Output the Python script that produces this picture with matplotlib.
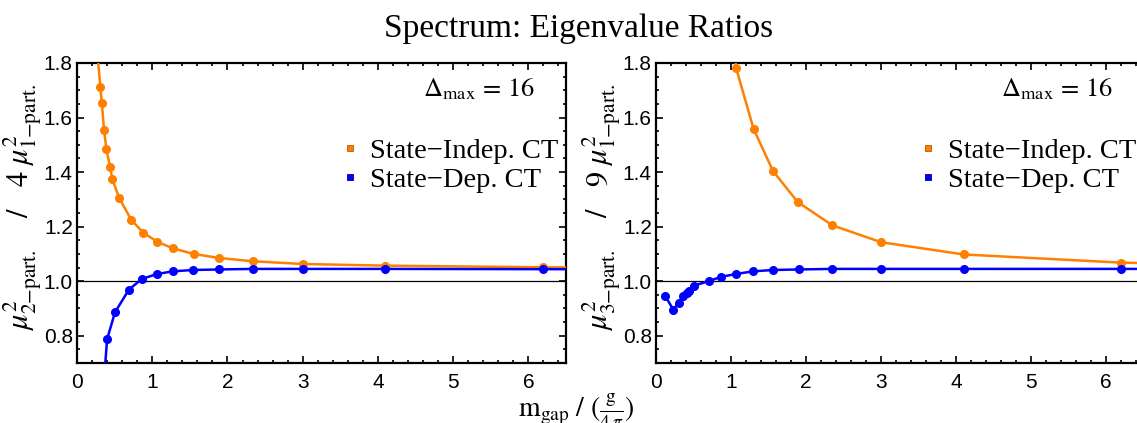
import matplotlib
matplotlib.use("Agg")
import matplotlib.pyplot as plt
from matplotlib.ticker import MultipleLocator, FormatStrFormatter

plt.rcParams['mathtext.fontset'] = 'stix'
plt.rcParams['font.family'] = ['Liberation Sans', 'DejaVu Sans']

# left panel: mu_2 / 4 mu_1
x2_indep = [0.27, 0.31, 0.33, 0.36, 0.39, 0.44, 0.47, 0.56, 0.72, 0.88, 1.07, 1.28, 1.55, 1.89, 2.34, 3.0, 4.1, 6.2, 8.0]
r2_indep = [1.84, 1.713, 1.653, 1.553, 1.485, 1.419, 1.373, 1.306, 1.225, 1.178, 1.144, 1.120, 1.100, 1.085, 1.073, 1.063, 1.057, 1.051, 1.049]
x2_dep = [0.36, 0.40, 0.505, 0.69, 0.86, 1.06, 1.27, 1.54, 1.89, 2.34, 3.0, 4.1, 6.2, 8.0]
r2_dep = [0.64, 0.787, 0.886, 0.969, 1.008, 1.026, 1.036, 1.041, 1.043, 1.045, 1.045, 1.045, 1.044, 1.044]

# right panel: mu_3 / 9 mu_1
x3_indep = [0.88, 1.07, 1.30, 1.56, 1.89, 2.35, 3.0, 4.1, 6.2, 8.0]
r3_indep = [2.30, 1.78, 1.559, 1.404, 1.290, 1.205, 1.143, 1.098, 1.068, 1.058]
x3_dep = [0.12, 0.23, 0.30, 0.36, 0.41, 0.44, 0.51, 0.70, 0.87, 1.06, 1.29, 1.56, 1.90, 2.35, 3.0, 4.1, 6.2, 8.0]
r3_dep = [0.947, 0.896, 0.920, 0.945, 0.958, 0.965, 0.984, 1.000, 1.016, 1.026, 1.036, 1.041, 1.043, 1.045, 1.045, 1.045, 1.045, 1.045]

labels = ['State\u2212Indep. CT', 'State\u2212Dep. CT']
ylabels = [r'$\mu^2_{\mathrm{2{-}part.}}\quad\;/\quad 4\ \mu^2_{\mathrm{1{-}part.}}$',
           r'$\mu^2_{\mathrm{3{-}part.}}\quad\;/\quad 9\ \mu^2_{\mathrm{1{-}part.}}$']
ORANGE = '#ff8000'
BLUE = '#0000ff'
serif = ['Liberation Serif', 'DejaVu Serif']

W, H = 1137, 423
fig = plt.figure(figsize=(W / 100, H / 100), dpi=100)
ax1 = fig.add_axes([77 / W, 60 / H, 489 / W, 300 / H])
ax2 = fig.add_axes([656 / W, 60 / H, 487.5 / W, 300 / H])

panels = [(ax1, x2_indep, r2_indep, x2_dep, r2_dep, ylabels[0]),
          (ax2, x3_indep, r3_indep, x3_dep, r3_dep, ylabels[1])]

for ax, xi, ri, xd, rd, ylab in panels:
    ax.axhline(1.0, color='black', lw=0.9, zorder=1)
    ax.plot(xi, ri, color=ORANGE, lw=1.8, marker='o', ms=5.5, label=labels[0], zorder=3)
    ax.plot(xd, rd, color=BLUE, lw=1.8, marker='o', ms=5.5, label=labels[1], zorder=3)
    ax.set_xlim(0, 6.5)
    ax.set_ylim(0.7, 1.8)
    ax.xaxis.set_major_locator(MultipleLocator(1))
    ax.xaxis.set_minor_locator(MultipleLocator(0.2))
    ax.yaxis.set_major_locator(MultipleLocator(0.2))
    ax.yaxis.set_minor_locator(MultipleLocator(0.05))
    ax.yaxis.set_major_formatter(FormatStrFormatter('%.1f'))
    ax.tick_params(which='both', direction='in', top=True, right=True, labelsize=15, width=1.2)
    ax.tick_params(which='major', length=5)
    ax.tick_params(which='minor', length=2.5)
    ax.tick_params(axis='x', pad=7)
    ax.tick_params(axis='y', pad=3)
    for s in ax.spines.values():
        s.set_linewidth(1.6)
    ax.set_ylabel(ylab, fontsize=22, va='center')
    ax.yaxis.set_label_coords(-0.112, 0.517)
    ax.text(0.937, 0.89, r'$\Delta_{\mathrm{max}}\,=\,16$', transform=ax.transAxes,
            ha='right', va='baseline', fontsize=19)
    leg_handles = [plt.Line2D([], [], ls='none', marker='s', ms=5, mfc=ORANGE, mec='#b35a00', mew=0.6),
                   plt.Line2D([], [], ls='none', marker='s', ms=5, mfc=BLUE, mec='#00008b', mew=0.6)]
    ax.legend(leg_handles, labels, loc='upper right', bbox_to_anchor=(0.985, 0.75),
              frameon=False, prop={'family': serif, 'size': 20.5}, handlelength=0.6,
              handletextpad=0.4, labelspacing=0.12, borderpad=0, borderaxespad=0)

fig.text(579 / W, 1 - 37 / H, 'Spectrum: Eigenvalue Ratios', ha='center', va='baseline',
         fontsize=24, family=serif)
fig.text(576 / W, 6 / H, r'$\mathrm{m}_{\mathrm{gap}}\ /\ (\frac{\mathrm{g}}{4\,\pi})$',
         ha='center', va='baseline', fontsize=20)

fig.savefig('out.png', dpi=100)
